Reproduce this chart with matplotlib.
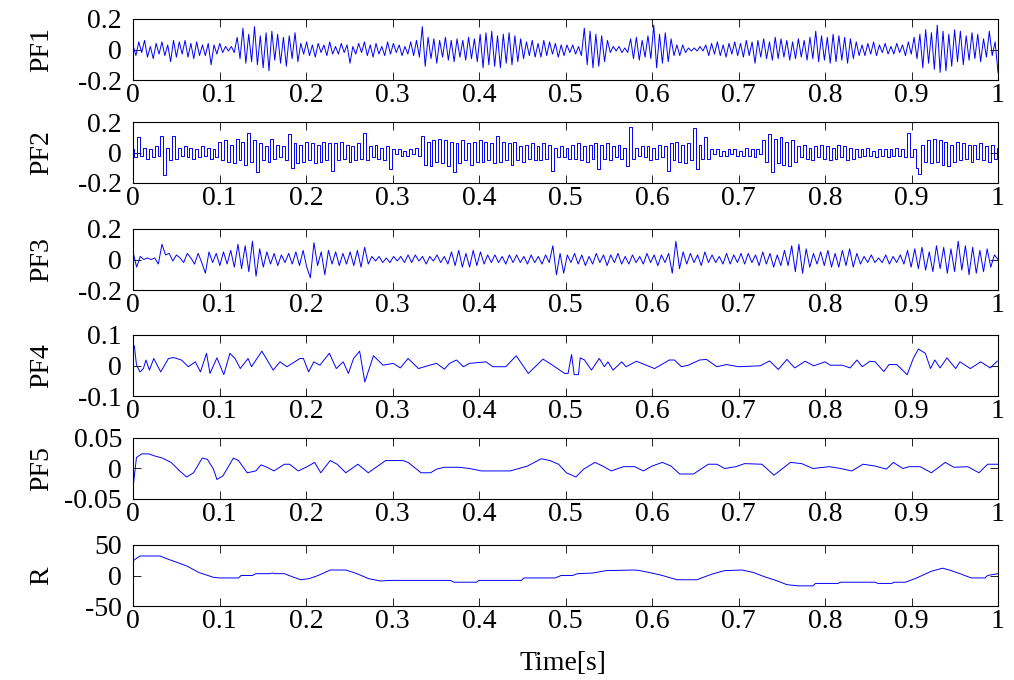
import numpy as np
import matplotlib
matplotlib.use("Agg")
import matplotlib.pyplot as plt

plt.rcParams['font.family'] = ['Liberation Serif', 'DejaVu Serif']
plt.rcParams['axes.unicode_minus'] = False

pf1 = [
    0.03, -0.04, 0.05, -0.02, 0.06, -0.05, 0.02, -0.06, 0.04, -0.03,
    0.05, -0.04, 0.03, -0.08, 0.06, -0.05, 0.05, -0.03, 0.06, -0.05,
    0.04, -0.06, 0.05, -0.04, 0.03, -0.04, 0.04, -0.10, 0.03, -0.03,
    0.04, -0.02, 0.02, -0.01, 0.02, -0.02, 0.08, -0.06, 0.14, -0.09,
    0.10, -0.08, 0.15, -0.10, 0.09, -0.12, 0.11, -0.14, 0.12, -0.07,
    0.10, -0.09, 0.08, -0.11, 0.09, -0.06, 0.11, -0.08, 0.04, -0.03,
    0.05, -0.04, 0.03, -0.05, 0.04, -0.02, 0.03, -0.04, 0.05, -0.03,
    0.02, -0.03, 0.04, -0.02, 0.03, -0.09, 0.02, -0.03, 0.04, -0.02,
    0.05, -0.04, 0.03, -0.05, 0.04, -0.03, 0.02, -0.04, 0.05, -0.03,
    0.04, -0.02, 0.03, -0.04, 0.02, -0.03, 0.05, -0.04, 0.06, -0.05,
    0.15, -0.11, 0.08, -0.06, 0.07, -0.09, 0.06, -0.05, 0.08, -0.07,
    0.06, -0.08, 0.07, -0.05, 0.06, -0.07, 0.08, -0.06, 0.07, -0.08,
    0.10, -0.12, 0.11, -0.10, 0.12, -0.11, 0.09, -0.12, 0.10, -0.09,
    0.11, -0.10, 0.09, -0.08, 0.07, -0.06, 0.05, -0.04, 0.06, -0.05,
    0.04, -0.05, 0.06, -0.04, 0.05, -0.03, 0.04, -0.05, 0.03, -0.04,
    0.03, -0.02, 0.03, -0.03, 0.02, -0.04, 0.14, -0.10, 0.12, -0.12,
    0.10, -0.11, 0.09, -0.08, 0.06, -0.02, 0.02, -0.01, 0.02, -0.02,
    0.01, -0.02, 0.07, -0.06, 0.08, -0.07, 0.06, -0.05, 0.09, -0.06,
    0.16, -0.12, 0.10, -0.09, 0.11, -0.08, 0.07, -0.04, 0.03, -0.04,
    0.03, -0.02, 0.01, -0.01, 0.01, -0.01, 0.02, -0.01, 0.03, -0.04,
    0.04, -0.03, 0.05, -0.04, 0.03, -0.05, 0.04, -0.03, 0.05, -0.04,
    0.04, -0.05, 0.06, -0.04, 0.05, -0.09, 0.06, -0.05, 0.07, -0.06,
    0.05, -0.07, 0.08, -0.06, 0.07, -0.05, 0.06, -0.07, 0.05, -0.06,
    0.07, -0.05, 0.06, -0.07, 0.08, -0.06, 0.12, -0.08, 0.09, -0.07,
    0.08, -0.09, 0.10, -0.08, 0.09, -0.07, 0.08, -0.09, 0.07, -0.06,
    0.05, -0.04, 0.03, -0.04, 0.04, -0.03, 0.05, -0.04, 0.03, -0.02,
    0.04, -0.03, 0.02, -0.03, 0.04, -0.02, 0.03, -0.04, 0.05, -0.03,
    0.08, -0.06, 0.10, -0.12, 0.13, -0.09, 0.11, -0.13, 0.16, -0.15,
    0.12, -0.14, 0.10, -0.11, 0.13, -0.08, 0.12, -0.10, 0.09, -0.07,
    0.11, -0.06, 0.10, -0.08, 0.07, -0.05, 0.12, -0.04, 0.05, -0.15,
]

pf2 = [
    0.02, -0.03, 0.10, -0.02, 0.03, -0.04, 0.02, -0.03, 0.04, -0.02,
    0.11, -0.15, 0.03, -0.05, 0.11, -0.04, 0.03, -0.02, 0.04, -0.03,
    0.03, -0.04, 0.02, -0.03, 0.04, -0.02, 0.03, -0.04, 0.02, -0.03,
    0.07, -0.05, 0.08, -0.06, 0.05, -0.07, 0.09, -0.05, 0.07, -0.08,
    0.13, -0.06, 0.08, -0.13, 0.06, -0.05, 0.04, -0.06, 0.09, -0.04,
    0.05, -0.03, 0.04, -0.05, 0.12, -0.10, 0.06, -0.07, 0.05, -0.06,
    0.07, -0.05, 0.06, -0.07, 0.05, -0.06, 0.07, -0.05, 0.06, -0.12,
    0.06, -0.05, 0.07, -0.04, 0.05, -0.06, 0.04, -0.05, 0.06, -0.04,
    0.13, -0.05, 0.04, -0.03, 0.05, -0.04, 0.03, -0.05, 0.04, -0.11,
    0.02, -0.01, 0.02, -0.02, 0.01, -0.02, 0.02, -0.01, 0.03, -0.02,
    0.11, -0.08, 0.07, -0.09, 0.08, -0.06, 0.09, -0.07, 0.08, -0.09,
    0.07, -0.13, 0.06, -0.07, 0.08, -0.05, 0.06, -0.08, 0.07, -0.06,
    0.08, -0.06, 0.07, -0.05, 0.06, -0.07, 0.11, -0.06, 0.07, -0.05,
    0.06, -0.08, 0.07, -0.05, 0.04, -0.06, 0.05, -0.04, 0.06, -0.05,
    0.04, -0.05, 0.06, -0.04, 0.05, -0.12, 0.03, -0.03, 0.04, -0.03,
    0.03, -0.04, 0.05, -0.04, 0.06, -0.05, 0.04, -0.06, 0.05, -0.04,
    0.06, -0.11, 0.05, -0.04, 0.06, -0.05, 0.04, -0.03, 0.05, -0.04,
    0.03, -0.09, 0.17, -0.04, 0.03, -0.02, 0.04, -0.03, 0.04, -0.05,
    0.03, -0.04, 0.05, -0.03, 0.04, -0.12, 0.06, -0.05, 0.07, -0.06,
    0.05, -0.07, 0.06, -0.05, 0.16, -0.11, 0.05, -0.04, 0.10, -0.04,
    0.02, -0.01, 0.02, -0.02, 0.01, -0.02, 0.02, -0.01, 0.02, -0.02,
    0.01, -0.02, 0.03, -0.02, 0.02, -0.03, 0.02, -0.01, 0.08, -0.06,
    0.12, -0.13, 0.09, -0.07, 0.10, -0.08, 0.07, -0.09, 0.08, -0.06,
    0.04, -0.03, 0.05, -0.04, 0.03, -0.05, 0.04, -0.03, 0.05, -0.04,
    0.04, -0.05, 0.03, -0.04, 0.05, -0.03, 0.04, -0.05, 0.03, -0.04,
    0.02, -0.03, 0.02, -0.02, 0.03, -0.02, 0.01, -0.03, 0.02, -0.02,
    0.02, -0.03, 0.02, -0.02, 0.03, -0.02, 0.02, -0.03, 0.13, -0.03,
    0.02, -0.10, -0.14, 0.05, -0.06, 0.08, -0.07, 0.09, -0.06, 0.08,
    -0.08, 0.07, -0.09, 0.05, -0.06, 0.07, -0.05, 0.06, -0.04, 0.05,
    -0.06, 0.05, -0.04, 0.06, -0.05, 0.04, -0.06, 0.05, -0.04, 0.03,
]

pf3 = [
    0.05, -0.05, 0.02, 0.00, 0.01, 0.00, 0.01, -0.03, 0.10, 0.03,
    0.04, -0.01, 0.03, 0.01, -0.02, 0.04, 0.01, -0.03, 0.04, -0.02,
    -0.09, 0.05, -0.02, 0.04, -0.04, 0.05, -0.03, 0.06, -0.05, 0.10,
    -0.06, 0.09, -0.08, 0.12, -0.11, 0.07, -0.05, 0.05, -0.03, 0.04,
    -0.04, 0.03, -0.02, 0.04, -0.03, 0.05, -0.04, 0.06, -0.05, -0.12,
    0.11, -0.04, 0.05, -0.10, 0.06, -0.03, 0.05, -0.04, 0.04, -0.03,
    0.05, -0.04, 0.06, -0.05, 0.08, -0.03, 0.02, -0.01, 0.02, -0.02,
    0.01, -0.02, 0.02, -0.01, 0.02, -0.02, 0.03, -0.02, 0.03, -0.01,
    0.02, -0.03, 0.02, -0.01, 0.03, -0.02, 0.02, -0.03, 0.05, -0.04,
    0.06, -0.05, 0.04, -0.05, 0.06, -0.04, 0.05, -0.03, 0.03, -0.02,
    0.03, -0.02, 0.02, -0.03, 0.03, -0.02, 0.03, -0.02, 0.02, -0.03,
    0.03, -0.02, 0.02, -0.03, 0.03, -0.02, 0.09, -0.10, 0.04, -0.09,
    0.03, -0.02, 0.04, -0.03, 0.03, -0.04, 0.02, -0.03, 0.04, -0.02,
    0.03, -0.04, 0.03, -0.02, 0.04, -0.03, 0.02, -0.03, 0.03, -0.02,
    0.02, -0.03, 0.04, -0.02, 0.03, -0.04, 0.03, -0.02, 0.04, -0.09,
    0.12, -0.06, 0.05, -0.03, 0.04, -0.02, 0.03, -0.04, 0.05, -0.02,
    0.03, -0.02, 0.02, -0.03, 0.04, -0.03, 0.03, -0.02, 0.04, -0.03,
    0.04, -0.02, 0.03, -0.04, 0.05, -0.03, 0.04, -0.05, 0.03, -0.04,
    0.06, -0.04, 0.09, -0.08, 0.10, -0.09, 0.07, -0.05, 0.04, -0.03,
    0.05, -0.04, 0.06, -0.05, 0.04, -0.05, 0.06, -0.04, 0.07, -0.05,
    0.04, -0.03, 0.02, -0.02, 0.03, -0.02, 0.01, -0.02, 0.03, -0.03,
    0.02, -0.02, 0.03, -0.03, 0.06, -0.05, 0.07, -0.06, 0.08, -0.07,
    0.05, -0.08, 0.09, -0.06, 0.08, -0.09, 0.07, -0.08, 0.12, -0.07,
    0.09, -0.10, 0.08, -0.09, 0.06, -0.08, 0.07, -0.05, 0.03, 0.00,
]

# PF4, PF5 and R as (time, value) points
pf4_t = [0.0, 0.0015, 0.004, 0.008, 0.012, 0.015, 0.019, 0.024, 0.028, 0.032,
         0.041, 0.047, 0.056, 0.064, 0.072, 0.078, 0.085, 0.089, 0.097, 0.105,
         0.112, 0.118, 0.124, 0.133, 0.137, 0.149, 0.162, 0.17, 0.178, 0.193,
         0.197, 0.203, 0.209, 0.216, 0.227, 0.235, 0.243, 0.249, 0.255, 0.262,
         0.268, 0.278, 0.289, 0.301, 0.309, 0.318, 0.33, 0.343, 0.351, 0.36,
         0.366, 0.374, 0.382, 0.389, 0.408, 0.416, 0.431, 0.443, 0.457, 0.474,
         0.485, 0.499, 0.503, 0.507, 0.51, 0.515, 0.517, 0.522, 0.53, 0.539,
         0.545, 0.549, 0.555, 0.565, 0.57, 0.582, 0.603, 0.62, 0.626, 0.634,
         0.642, 0.655, 0.663, 0.675, 0.686, 0.7, 0.725, 0.736, 0.746, 0.756,
         0.765, 0.777, 0.787, 0.8, 0.806, 0.82, 0.829, 0.837, 0.843, 0.852,
         0.858, 0.868, 0.874, 0.883, 0.895, 0.902, 0.908, 0.916, 0.922, 0.927,
         0.933, 0.941, 0.951, 0.956, 0.968, 0.98, 0.991, 0.999]
pf4_v = [0.06, 0.065, 0.003, -0.021, -0.01, 0.018, -0.015, 0.023, 0.001, -0.021,
         0.023, 0.026, 0.018, -0.004, 0.012, -0.021, 0.04, -0.026, 0.025, -0.03,
         0.04, 0.023, -0.01, 0.023, -0.004, 0.047, -0.015, 0.012, -0.004, 0.023,
         0.023, -0.021, 0.012, 0.001, 0.04, -0.01, 0.012, -0.026, 0.023, 0.047,
         -0.054, 0.032, 0.001, 0.007, -0.008, 0.023, -0.01, 0.001, 0.007, -0.012,
         0.007, 0.018, -0.004, 0.007, 0.012, -0.004, -0.004, 0.032, -0.026, 0.021,
         0.001, -0.026, -0.026, 0.036, -0.03, -0.03, 0.025, 0.018, -0.015, 0.023,
         -0.004, 0.012, -0.015, 0.012, -0.004, 0.014, -0.01, 0.018, 0.018, -0.004,
         0.001, 0.018, 0.02, -0.004, 0.003, -0.004, -0.001, 0.015, -0.013, 0.02,
         -0.008, 0.014, -0.001, 0.012, 0.001, 0.001, -0.008, 0.018, -0.004, 0.014,
         0.012, -0.02, 0.003, 0.003, -0.03, 0.023, 0.054, 0.04, -0.01, 0.018,
         -0.008, 0.025, -0.01, 0.012, -0.01, 0.012, -0.008, 0.014]

pf5_t = [0.0, 0.004, 0.01, 0.018, 0.024, 0.034, 0.044, 0.054, 0.062, 0.07,
         0.08, 0.086, 0.093, 0.097, 0.104, 0.116, 0.122, 0.132, 0.142, 0.148,
         0.155, 0.163, 0.175, 0.181, 0.191, 0.2, 0.21, 0.217, 0.228, 0.236,
         0.246, 0.26, 0.272, 0.292, 0.312, 0.318, 0.333, 0.344, 0.351, 0.36,
         0.377, 0.389, 0.403, 0.436, 0.456, 0.472, 0.482, 0.492, 0.501, 0.512,
         0.521, 0.534, 0.543, 0.553, 0.567, 0.58, 0.59, 0.6, 0.612, 0.622,
         0.632, 0.648, 0.665, 0.675, 0.684, 0.697, 0.707, 0.727, 0.741, 0.76,
         0.773, 0.786, 0.805, 0.818, 0.831, 0.844, 0.858, 0.871, 0.879, 0.89,
         0.897, 0.91, 0.923, 0.939, 0.949, 0.965, 0.978, 0.988, 1.0]
pf5_v = [-0.032, 0.018, 0.024, 0.024, 0.021, 0.017, 0.01, -0.004, -0.014, -0.007,
         0.017, 0.015, -0.001, -0.018, -0.012, 0.017, 0.013, -0.007, -0.004, 0.006,
         0.002, -0.004, 0.007, 0.007, -0.004, 0.002, 0.01, -0.007, 0.013, 0.007,
         -0.007, 0.007, -0.007, 0.013, 0.013, 0.01, -0.007, -0.007, -0.001, 0.002,
         0.002, 0.0, -0.004, -0.004, 0.004, 0.016, 0.013, 0.007, -0.007, -0.014,
         -0.001, 0.01, 0.004, -0.004, 0.003, 0.003, -0.004, 0.004, 0.01, 0.004,
         -0.009, -0.009, 0.007, 0.007, 0.0, 0.003, 0.008, 0.007, -0.011, 0.01,
         0.008, 0.0, 0.003, 0.0, -0.004, 0.007, 0.004, -0.001, 0.01, 0.0,
         0.003, 0.003, -0.007, 0.01, 0.002, 0.003, -0.007, 0.007, 0.007]

r_t = [0.0, 0.008, 0.031, 0.04, 0.05, 0.063, 0.076, 0.093, 0.1, 0.122,
       0.125, 0.138, 0.142, 0.158, 0.161, 0.164, 0.175, 0.184, 0.194, 0.204,
       0.214, 0.228, 0.246, 0.259, 0.272, 0.286, 0.299, 0.367, 0.371, 0.397,
       0.4, 0.449, 0.452, 0.488, 0.495, 0.508, 0.514, 0.531, 0.547, 0.58,
       0.586, 0.6, 0.612, 0.629, 0.652, 0.661, 0.671, 0.684, 0.704, 0.717,
       0.73, 0.743, 0.756, 0.769, 0.786, 0.789, 0.815, 0.818, 0.858, 0.861,
       0.877, 0.88, 0.893, 0.906, 0.923, 0.936, 0.946, 0.956, 0.969, 0.985,
       0.988, 1.0]
r_v = [24, 32, 32, 27, 22, 15, 5, -3, -4, -4,
       0, 0, 3, 3, 4, 3, 3, -2, -7, -5,
       0, 9, 9, 3, -5, -9, -8, -8, -11, -11,
       -8, -8, -4, -4, 0, 0, 3, 4, 8, 9,
       8, 4, 0, -7, -7, -2, 3, 8, 9, 5,
       -2, -8, -15, -17, -17, -13, -13, -11, -11, -13,
       -13, -11, -11, -4, 7, 12, 8, 3, -4, -4,
       0, 3]

names = ["PF1", "PF2", "PF3", "PF4", "PF5", "R"]
ylims = [0.2, 0.2, 0.2, 0.1, 0.05, 50]
ytick_labels = [["-0.2", "0", "0.2"], ["-0.2", "0", "0.2"], ["-0.2", "0", "0.2"],
                ["-0.1", "0", "0.1"], ["-0.05", "0", "0.05"], ["-50", "0", "50"]]
xticks = [0, 0.1, 0.2, 0.3, 0.4, 0.5, 0.6, 0.7, 0.8, 0.9, 1]
xtick_labels = ["0", "0.1", "0.2", "0.3", "0.4", "0.5", "0.6", "0.7", "0.8", "0.9", "1"]

series = [
    (np.linspace(0, 1, len(pf1)), pf1, "default"),
    (np.linspace(0, 1, len(pf2)), pf2, "steps-mid"),
    (np.linspace(0, 1, len(pf3)), pf3, "default"),
    (pf4_t, pf4_v, "default"),
    (pf5_t, pf5_v, "default"),
    (r_t, r_v, "default"),
]

W, H = 1014, 680
fig = plt.figure(figsize=(W / 100, H / 100), dpi=100)

# panel bottoms in pixels from the top of the picture
bottoms_px = [80, 183, 290, 396, 499, 606]
fs = 20

for k, (t, v, ds) in enumerate(series):
    b = bottoms_px[k]
    ax = fig.add_axes([133 / W, 1 - b / H, 865 / W, 61 / H])
    ax.plot(t, v, color="#0000ff", lw=0.7, drawstyle=ds)
    lim = ylims[k]
    ax.set_xlim(0, 1)
    ax.set_ylim(-lim, lim)
    ax.set_yticks([-lim, 0, lim])
    ax.set_yticklabels(ytick_labels[k])
    ax.set_xticks(xticks)
    ax.set_xticklabels(xtick_labels)
    ax.tick_params(direction="in", top=True, right=True, labelsize=fs,
                   length=6, width=0.6)
    ax.tick_params(axis="x", pad=2)
    ax.tick_params(axis="y", pad=8)
    for s in ax.spines.values():
        s.set_linewidth(0.8)
    fig.text(42 / W, 1 - (b - 30) / H, names[k], rotation=90,
             ha="center", va="center", fontsize=fs)

fig.text(563 / W, 1 - 663 / H, "Time[s]", ha="center", va="center", fontsize=fs)

fig.savefig("out.png", dpi=100)
